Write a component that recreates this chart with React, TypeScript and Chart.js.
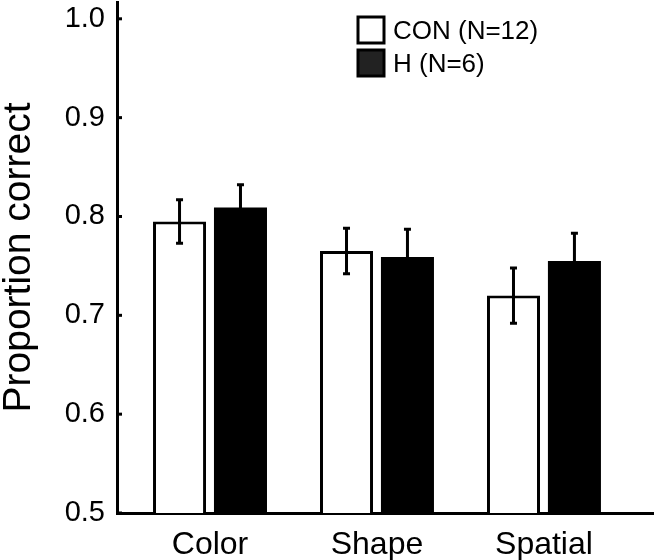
import React, { useEffect, useRef } from "react";
import { Chart, registerables } from "chart.js";

Chart.register(...registerables);

const categories = ["Color", "Shape", "Spatial"];
const seriesLabels = ["CON (N=12)", "H (N=6)"];
const conValues = [0.795, 0.765, 0.72];
const conErrors = [0.022, 0.023, 0.028];
const hValues = [0.809, 0.759, 0.755];
const hErrors = [0.023, 0.028, 0.028];
const yTicks = [0.5, 0.6, 0.7, 0.8, 0.9, 1.0];
const xRange = [-0.557, 2.653];
const yRange = [0.5, 1.017];

const FONT = "'Liberation Sans', Arial, Helvetica, sans-serif";

const errorBarPlugin = {
  id: "errorBars",
  afterDatasetsDraw(chart: any) {
    const ctx = chart.ctx;
    const y = chart.scales.y;
    chart.data.datasets.forEach((ds: any, di: number) => {
      const meta = chart.getDatasetMeta(di);
      meta.data.forEach((bar: any, i: number) => {
        const v = ds.data[i].y;
        const e = ds.errors[i];
        const x = bar.x;
        const top = y.getPixelForValue(v + e);
        const bot = y.getPixelForValue(v - e);
        ctx.save();
        ctx.strokeStyle = "#000";
        ctx.lineWidth = 3;
        ctx.beginPath();
        ctx.moveTo(x, top);
        ctx.lineTo(x, bot);
        ctx.moveTo(x - 3.5, top);
        ctx.lineTo(x + 3.5, top);
        ctx.moveTo(x - 3.5, bot);
        ctx.lineTo(x + 3.5, bot);
        ctx.stroke();
        ctx.restore();
      });
    });
  },
};

const innerTicksPlugin = {
  id: "innerTicks",
  afterDraw(chart: any) {
    const ctx = chart.ctx;
    const y = chart.scales.y;
    const left = chart.chartArea.left;
    ctx.save();
    ctx.strokeStyle = "#000";
    ctx.lineWidth = 3;
    y.ticks.forEach((t: any) => {
      const py = y.getPixelForValue(t.value);
      ctx.beginPath();
      ctx.moveTo(left, py);
      ctx.lineTo(left + 5, py);
      ctx.stroke();
    });
    ctx.restore();
  },
};

const legendPlugin = {
  id: "customLegend",
  afterDraw(chart: any) {
    const ctx = chart.ctx;
    const area = chart.chartArea;
    const lx = area.left + 241;
    const ly = area.top + 15;
    const fills = ["#ffffff", "#222222"];
    ctx.save();
    seriesLabels.forEach((label, i) => {
      const by = ly + i * 33;
      ctx.fillStyle = fills[i];
      ctx.fillRect(lx, by, 26, 26);
      ctx.strokeStyle = "#000";
      ctx.lineWidth = 3;
      ctx.strokeRect(lx, by, 26, 26);
      ctx.fillStyle = "#000";
      ctx.font = `26px ${FONT}`;
      ctx.textBaseline = "middle";
      ctx.textAlign = "left";
      ctx.fillText(label, lx + 35, by + 15);
    });
    ctx.restore();
  },
};

export default function App() {
  const canvasRef = useRef<HTMLCanvasElement | null>(null);

  useEffect(() => {
    if (!canvasRef.current) return;
    const chart = new Chart(canvasRef.current, {
      type: "bar",
      data: {
        datasets: [
          {
            label: seriesLabels[0],
            data: conValues.map((v, i) => ({ x: i, y: v })),
            errors: conErrors,
            backgroundColor: "#ffffff",
            borderColor: "#000000",
            borderWidth: 3,
          } as any,
          {
            label: seriesLabels[1],
            data: hValues.map((v, i) => ({ x: i, y: v })),
            errors: hErrors,
            backgroundColor: "#000000",
            borderColor: "#000000",
            borderWidth: 0,
          } as any,
        ],
      },
      options: {
        responsive: false,
        animation: false,
        categoryPercentage: 0.73,
        barPercentage: 0.87,
        layout: { padding: { top: 2, right: 2, left: 0, bottom: 0 } },
        plugins: {
          legend: { display: false },
          tooltip: { enabled: false },
        },
        scales: {
          x: {
            type: "linear",
            offset: false,
            min: xRange[0],
            max: xRange[1],
            grid: { display: false, drawTicks: false, offset: false },
            border: { display: true, color: "#000", width: 3 },
            afterBuildTicks: (scale: any) => {
              scale.ticks = categories.map((_, i) => ({ value: i }));
            },
            afterFit: (scale: any) => {
              scale.height = 47;
              scale.paddingLeft = 0;
              scale.paddingRight = 0;
            },
            ticks: {
              autoSkip: false,
              maxRotation: 0,
              padding: 13,
              color: "#000",
              font: { family: FONT, size: 32 },
              callback: (_v: any, index: number) => categories[index],
            },
          },
          y: {
            type: "linear",
            min: yRange[0],
            max: yRange[1],
            grid: { display: false, drawTicks: false },
            border: { display: true, color: "#000", width: 3 },
            afterBuildTicks: (scale: any) => {
              scale.ticks = yTicks.map((v) => ({ value: v }));
            },
            afterFit: (scale: any) => {
              scale.width = 117;
              scale.paddingTop = 0;
              scale.paddingBottom = 0;
            },
            ticks: {
              padding: 12,
              color: "#000",
              font: { family: FONT, size: 29 },
              callback: (v: any) => Number(v).toFixed(1),
            },
            title: {
              display: true,
              text: "Proportion correct",
              color: "#000",
              padding: 0,
              font: { family: FONT, size: 39, lineHeight: 1 },
            },
          },
        },
      } as any,
      plugins: [errorBarPlugin, innerTicksPlugin, legendPlugin],
    });
    return () => chart.destroy();
  }, []);

  return (
    <div style={{ position: "absolute", left: 0, top: 0, width: 655, height: 560, background: "#fff" }}>
      <canvas ref={canvasRef} width={655} height={560} style={{ display: "block" }} />
    </div>
  );
}
